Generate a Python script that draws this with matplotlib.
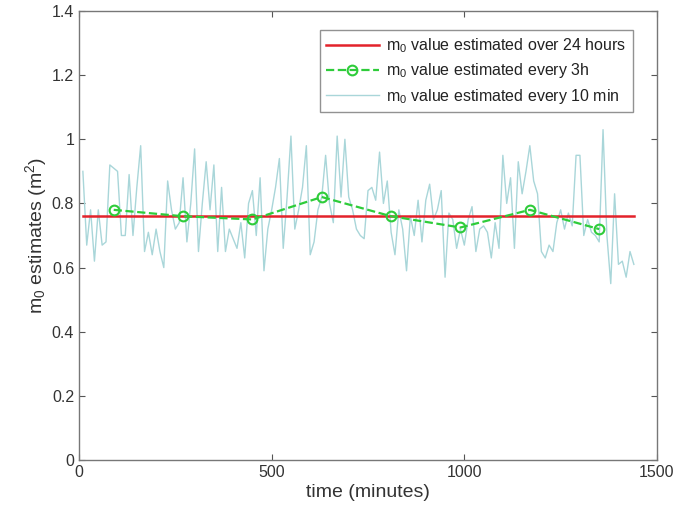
import numpy as np
import matplotlib.pyplot as plt

plt.rcParams['font.family'] = ['Liberation Sans', 'DejaVu Sans']
plt.rcParams['mathtext.default'] = 'regular'

# m0 estimated every 10 minutes
t_10min = np.arange(10, 1441, 10)
m0_10min = [
    0.90, 0.67, 0.78, 0.62, 0.78, 0.67, 0.68, 0.92, 0.91, 0.90,
    0.70, 0.70, 0.89, 0.70, 0.85, 0.98, 0.65, 0.71, 0.64, 0.72,
    0.65, 0.60, 0.87, 0.78, 0.72, 0.74, 0.88, 0.68, 0.80, 0.97,
    0.65, 0.80, 0.93, 0.78, 0.92, 0.65, 0.85, 0.65, 0.72, 0.69,
    0.66, 0.74, 0.63, 0.80, 0.84, 0.70, 0.88, 0.59, 0.72, 0.78,
    0.85, 0.94, 0.66, 0.82, 1.01, 0.72, 0.78, 0.85, 0.98, 0.64,
    0.68, 0.78, 0.82, 0.95, 0.80, 0.74, 1.01, 0.82, 1.00, 0.82,
    0.78, 0.72, 0.70, 0.69, 0.84, 0.85, 0.81, 0.96, 0.80, 0.87,
    0.71, 0.64, 0.78, 0.72, 0.59, 0.76, 0.70, 0.81, 0.68, 0.81,
    0.86, 0.75, 0.78, 0.84, 0.57, 0.77, 0.75, 0.66, 0.72, 0.67,
    0.75, 0.79, 0.65, 0.72, 0.73, 0.71, 0.63, 0.74, 0.66, 0.95,
    0.80, 0.88, 0.66, 0.93, 0.83, 0.90, 0.98, 0.87, 0.83, 0.65,
    0.63, 0.67, 0.65, 0.74, 0.78, 0.72, 0.77, 0.73, 0.95, 0.95,
    0.70, 0.75, 0.71, 0.70, 0.68, 1.03, 0.70, 0.55, 0.83, 0.61,
    0.62, 0.57, 0.65, 0.61,
]

# m0 estimated every 3 hours
t_3h = [90, 270, 450, 630, 810, 990, 1170, 1350]
m0_3h = [0.78, 0.76, 0.75, 0.82, 0.76, 0.725, 0.78, 0.72]

# m0 estimated over 24 hours
t_24h = [10, 1440]
m0_24h = 0.76

fig = plt.figure(figsize=(6.95, 5.16), dpi=100)
ax = fig.add_axes([0.1137, 0.1085, 0.8316, 0.8702])

ax.plot(t_24h, [m0_24h, m0_24h], color='#e3222b', lw=1.8,
        label='m$_0$ value estimated over 24 hours', zorder=3)
ax.plot(t_3h, m0_3h, '--o', color='#2ecc3a', lw=1.6, ms=7, mew=1.5,
        mfc='none', label='m$_0$ value estimated every 3h', zorder=4)
ax.plot(t_10min, m0_10min, color='#a9d6d9', lw=1.0,
        label='m$_0$ value estimated every 10 min', zorder=2)

ax.set_xlim(0, 1500)
ax.set_ylim(0, 1.4)
ax.set_xticks([0, 500, 1000, 1500])
ax.set_yticks(np.arange(0, 1.41, 0.2))
ax.set_yticklabels(['0', '0.2', '0.4', '0.6', '0.8', '1', '1.2', '1.4'])
ax.tick_params(direction='in', top=True, right=True, length=4,
               colors='#555555', labelsize=11.5, labelcolor='#333333')
for s in ax.spines.values():
    s.set_color('#777777')
    s.set_linewidth(1.0)

ax.set_xlabel('time (minutes)', fontsize=14, color='#333333', labelpad=3)
ax.set_ylabel('m$_0$ estimates (m$^2$)', fontsize=14, color='#333333', labelpad=2)

leg = ax.legend(loc='upper right', bbox_to_anchor=(0.958, 0.958),
                fontsize=11.5, frameon=True, fancybox=False,
                edgecolor='#777777', borderaxespad=0, handlelength=3.3,
                handletextpad=0.45, labelspacing=0.4, borderpad=0.4)
leg.get_frame().set_linewidth(1.0)
for txt in leg.get_texts():
    txt.set_color('#222222')

fig.savefig('out.png', dpi=100)
